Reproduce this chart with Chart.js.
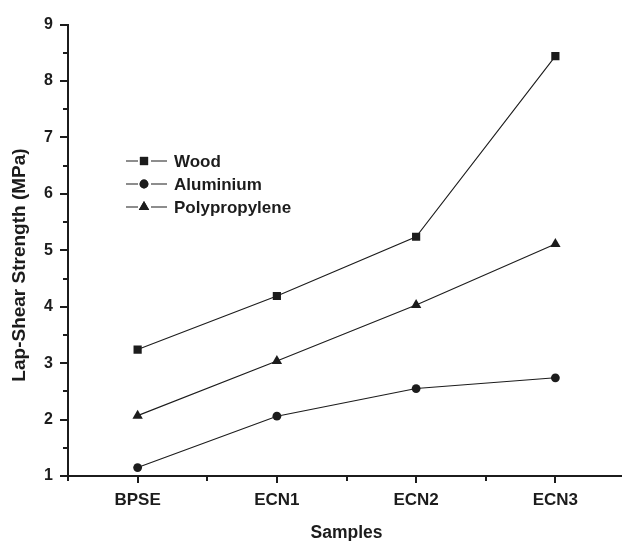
<!DOCTYPE html>
<html>
<head>
<meta charset="utf-8">
<script src="https://cdn.jsdelivr.net/npm/chart.js@4"></script>
<style>
  html, body { margin: 0; padding: 0; background: #fff; overflow: hidden; }
  #wrap { width: 622px; height: 541px; overflow: hidden; }
</style>
</head>
<body>
<div id="wrap"><canvas id="lapChart" width="639" height="541"></canvas></div>
<script>
// Data
const categories = ['BPSE', 'ECN1', 'ECN2', 'ECN3'];
const wood = [3.24, 4.19, 5.24, 8.44];
const aluminium = [1.15, 2.06, 2.55, 2.74];
const polypropylene = [2.07, 3.04, 4.03, 5.11];
const yMin = 1, yMax = 9;

const ink = '#1c1c1c';
const font = 'Liberation Sans, Arial, sans-serif';
const yTitle = 'Lap-Shear Strength (MPa)';

function toPoints(values) {
    return values.map((v, i) => ({ x: i, y: v }));
}

// Axis tick marks (major + minor), drawn outward like the original plot
const tickMarks = {
    id: 'tickMarks',
    afterDraw(chart) {
        const { ctx, scales: { x, y }, chartArea } = chart;
        ctx.save();
        ctx.strokeStyle = ink;
        ctx.lineWidth = 2;
        for (let v = yMin; v <= yMax + 1e-9; v += 0.5) {
            const py = Math.round(y.getPixelForValue(v));
            const len = Number.isInteger(v) ? 8 : 5;
            ctx.beginPath();
            ctx.moveTo(chartArea.left, py);
            ctx.lineTo(chartArea.left - len, py);
            ctx.stroke();
        }
        for (let v = -0.5; v <= categories.length - 0.5 + 1e-9; v += 0.5) {
            const px = Math.round(x.getPixelForValue(v));
            const len = Number.isInteger(v) ? 7 : 5;
            ctx.beginPath();
            ctx.moveTo(px, chartArea.bottom);
            ctx.lineTo(px, chartArea.bottom + len);
            ctx.stroke();
        }
        // y axis title sits a bit below the middle in the original
        ctx.translate(19.5, 265);
        ctx.rotate(-Math.PI / 2);
        ctx.fillStyle = ink;
        ctx.font = 'bold 19px ' + font;
        ctx.textAlign = 'center';
        ctx.textBaseline = 'middle';
        ctx.fillText(yTitle, 0, 0);
        ctx.restore();
    }
};

// Legend in Origin style: line - marker - line, then the name
const lineLegend = {
    id: 'lineLegend',
    afterDraw(chart) {
        const { ctx } = chart;
        const x0 = 126, y0 = 161, gap = 23;
        ctx.save();
        chart.data.datasets.forEach((ds, i) => {
            const yy = y0 + i * gap;
            ctx.strokeStyle = ink;
            ctx.lineWidth = 1.2;
            ctx.beginPath();
            ctx.moveTo(x0, yy); ctx.lineTo(x0 + 12, yy);
            ctx.moveTo(x0 + 25, yy); ctx.lineTo(x0 + 41, yy);
            ctx.stroke();
            ctx.fillStyle = ink;
            Chart.helpers.drawPoint(ctx, {
                pointStyle: ds.pointStyle,
                radius: ds.pointRadius,
                rotation: 0,
                borderWidth: 0
            }, x0 + 18, yy);
            ctx.fill();
            ctx.font = 'bold 17px ' + font;
            ctx.textBaseline = 'middle';
            ctx.fillText(ds.label, x0 + 48, yy + 1);
        });
        ctx.restore();
    }
};

function makeSet(label, values, style, radius) {
    return {
        label: label,
        data: toPoints(values),
        borderColor: ink,
        borderWidth: 1.1,
        pointStyle: style,
        pointRadius: radius,
        pointHoverRadius: radius,
        pointBackgroundColor: ink,
        pointBorderColor: ink,
        pointBorderWidth: 0,
        fill: false,
        tension: 0
    };
}

new Chart(document.getElementById('lapChart'), {
    type: 'line',
    data: {
        datasets: [
            makeSet('Wood', wood, 'rect', 5.8),
            makeSet('Aluminium', aluminium, 'circle', 4.4),
            makeSet('Polypropylene', polypropylene, 'triangle', 6)
        ]
    },
    options: {
        responsive: false,
        animation: false,
        devicePixelRatio: 1,
        layout: { padding: { top: 23, right: 5, left: 0, bottom: 0 } },
        plugins: { legend: { display: false }, tooltip: { enabled: false } },
        scales: {
            x: {
                type: 'linear',
                min: -0.5,
                max: categories.length - 0.5,
                afterFit: s => { s.height = 65; },
                grid: { display: false, drawTicks: false },
                border: { display: true, color: ink, width: 2 },
                ticks: {
                    stepSize: 0.5,
                    autoSkip: false,
                    maxRotation: 0,
                    padding: 14,
                    color: ink,
                    font: { family: font, size: 17, weight: 'bold' },
                    callback: v => Number.isInteger(v) && v >= 0 ? categories[v] : ''
                },
                title: {
                    display: true,
                    text: 'Samples',
                    color: ink,
                    font: { family: font, size: 17.5, weight: 'bold' },
                    padding: { top: 0, bottom: -3 }
                }
            },
            y: {
                min: yMin,
                max: yMax,
                afterFit: s => { s.width = 68; },
                grid: { display: false, drawTicks: false },
                border: { display: true, color: ink, width: 2 },
                ticks: {
                    stepSize: 0.5,
                    autoSkip: false,
                    padding: 15,
                    color: ink,
                    font: { family: font, size: 16, weight: 'bold' },
                    callback: v => Number.isInteger(v) ? v : ''
                }
            }
        }
    },
    plugins: [tickMarks, lineLegend]
});
</script>
</body>
</html>
